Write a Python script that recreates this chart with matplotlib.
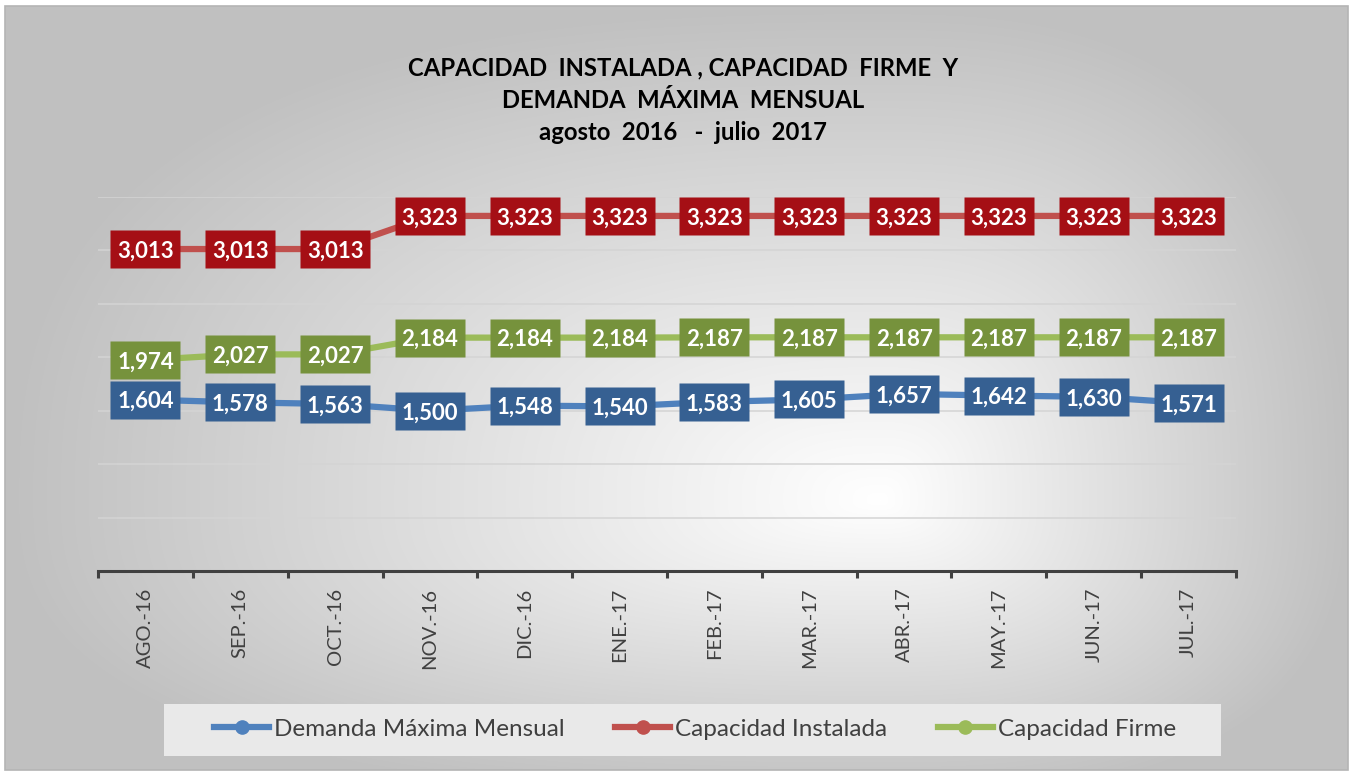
import numpy as np
import matplotlib
matplotlib.use("Agg")
import matplotlib.pyplot as plt
from matplotlib.patches import Rectangle
from matplotlib.path import Path as MPath

plt.rcParams["font.family"] = ["Lato", "DejaVu Sans"]

meses = ["AGO.-16", "SEP.-16", "OCT.-16", "NOV.-16", "DIC.-16", "ENE.-17",
         "FEB.-17", "MAR.-17", "ABR.-17", "MAY.-17", "JUN.-17", "JUL.-17"]
demanda = [1604, 1578, 1563, 1500, 1548, 1540, 1583, 1605, 1657, 1642, 1630, 1571]
instalada = [3013, 3013, 3013, 3323, 3323, 3323, 3323, 3323, 3323, 3323, 3323, 3323]
firme = [1974, 2027, 2027, 2184, 2184, 2184, 2187, 2187, 2187, 2187, 2187, 2187]

W, H = 1349, 772
fig = plt.figure(figsize=(W / 100, H / 100), dpi=100)

# background: radial-ish gradient inside a thin frame
bg = fig.add_axes([0, 0, 1, 1], zorder=-10)
bg.set_xlim(0, W)
bg.set_ylim(H, 0)
bg.axis("off")
xx, yy = np.meshgrid(np.arange(5, 1348), np.arange(6, 770))
cx, cy = 880, 500
dx = np.where(xx < cx, (cx - xx) / 875.0, (xx - cx) / 470.0)
dy = np.where(yy < cy, (cy - yy) / 494.0, (yy - cy) / 300.0)
d = np.clip((dx ** 2.6 + dy ** 2.6) ** (1 / 2.6), 0, 1)
g = (255 - 63 * d) / 255.0
bg.imshow(np.dstack([g, g, g]), extent=(5, 1348, 770, 6), aspect="auto", zorder=0)
bg.add_patch(Rectangle((5, 6), 1343, 764, fill=False, ec="#b4b4b4", lw=1.2, zorder=1))
# legend panel
bg.add_patch(Rectangle((164, 704), 1057, 52, fc="#e9e9e9", ec="none", zorder=1))

ax = fig.add_axes([98 / W, 1 - 571 / H, (1236 - 98) / W, (571 - 197) / H])
ax.patch.set_alpha(0)
x = np.arange(len(meses))
ax.set_xlim(-0.5, len(meses) - 0.5)
ax.set_ylim(0, 3500)
ax.set_yticks(np.arange(500, 3501, 500))
ax.yaxis.grid(True, color="#d4d4d4", lw=1.1)
ax.set_axisbelow(True)
ax.tick_params(axis="y", length=0, labelleft=False)
for s in ["top", "right", "left"]:
    ax.spines[s].set_visible(False)
ax.spines["bottom"].set_color("#404040")
ax.spines["bottom"].set_linewidth(2.2)

ax.set_xticks(x)
ax.set_xticklabels(meses, rotation=90, fontsize=14.5, color="#404040")
ax.tick_params(axis="x", which="major", length=0, pad=12)
ax.set_xticks(np.arange(-0.5, len(meses)), minor=True)
ax.tick_params(axis="x", which="minor", length=5, width=2.2, color="#404040")

# label box marker (71 x 38 px)
box = MPath([(-1, -0.535), (1, -0.535), (1, 0.535), (-1, 0.535), (-1, -0.535)],
            [1, 2, 2, 2, 79])

series = [
    ("Demanda Máxima Mensual", demanda, "#4f81bd", "#366092"),
    ("Capacidad Instalada", instalada, "#c0504d", "#a50f15"),
    ("Capacidad Firme", firme, "#9bbb59", "#76923c"),
]
for name, vals, col, boxcol in series:
    ax.plot(x, vals, color=col, lw=4.5, marker="o", ms=33, mec=col, mfc=col,
            label=name, zorder=3, clip_on=False)
    ax.plot(x, vals, ls="none", marker=box, ms=51, mfc=boxcol, mec="none",
            zorder=4, clip_on=False)
    for xi, v in zip(x, vals):
        ax.text(xi, v, f"{v:,}", ha="center", va="center_baseline", fontsize=16,
                fontweight="bold", color="white", zorder=5)

for yy_, txt in [(68, "CAPACIDAD  INSTALADA , CAPACIDAD  FIRME  Y"),
                 (100, "DEMANDA  MÁXIMA  MENSUAL"),
                 (132, "agosto  2016   -  julio  2017")]:
    fig.text(683 / W, 1 - yy_ / H, txt, ha="center", va="center",
             fontsize=17.2, fontweight="bold", color="black")

handles, labels = ax.get_legend_handles_labels()
for h in handles:
    h.set_markersize(9.5)
    h.set_linewidth(4.5)
leg = fig.legend(handles, labels, loc="center", ncol=3, frameon=False,
                 bbox_to_anchor=(695 / W, 1 - 729 / H), fontsize=17.5,
                 labelcolor="#404040", handlelength=2.25, handletextpad=0.2,
                 columnspacing=2.1)

fig.savefig("out.png", dpi=100)
